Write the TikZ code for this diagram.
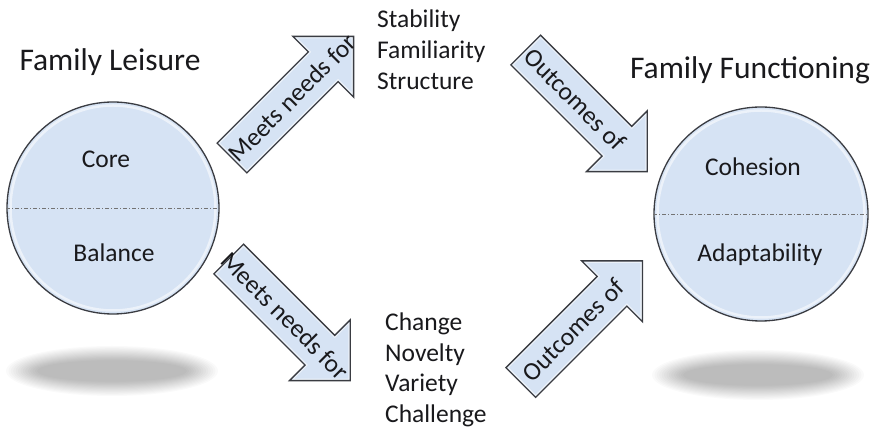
\documentclass[tikz,border=0pt]{standalone}
\usepackage{fontspec}
\setmainfont{Carlito}
\usetikzlibrary{shapes.geometric}
\definecolor{fillblue}{RGB}{214,227,244}
\definecolor{edgegray}{RGB}{58,60,66}
\definecolor{txt}{RGB}{25,25,28}
\tikzset{
  blob/.style={circle, draw=edgegray, line width=1.3pt, fill=fillblue, minimum size=212pt, inner sep=0pt},
  blockarrow/.style={draw=edgegray, line width=1.3pt, line join=miter},
  arrowfill/.style={fill=fillblue},
  glow/.style={draw=white, line width=4pt, opacity=0.55},
  lbl/.style={font=\fontsize{25.5}{31}\selectfont, text=txt, inner sep=0pt},
  listlbl/.style={font=\fontsize{25.5}{31}\selectfont, text=txt, inner sep=0pt, align=left, anchor=west},
  ttl/.style={font=\fontsize{31.5}{37}\selectfont, text=txt, inner sep=0pt},
  halfline/.style={draw=black!55, line width=0.6pt, dash pattern=on 4pt off 2pt on 1pt off 2pt},
  shadowlayer/.style={fill=black, opacity=0.02}
}
\newcommand{\arrowpath}{(0,-21) -- (129,-21) -- (129,-43) -- (172,0) -- (129,43) -- (129,21) -- (0,21) -- cycle}
\newcommand{\blkarrow}[5]{%
  \begin{scope}[shift={#2}, rotate=#3]
    \fill[arrowfill] \arrowpath;
    \begin{scope}
      \clip \arrowpath;
      \draw[glow] \arrowpath;
    \end{scope}
    \draw[blockarrow] \arrowpath;
    \node[lbl, transform shape] (#1) at (#5,0) {#4};
  \end{scope}}
\newcommand{\softshadow}[1]{%
  \foreach \k in {0,...,13} {
    \fill[shadowlayer] #1 ellipse ({106-2.4*\k} and {25-1.1*\k});
  }}
\begin{document}
\begin{tikzpicture}[x=1pt,y=1pt]
  \useasboundingbox (0,0) rectangle (876,433);
  \fill[white] (0,0) rectangle (876,433);
  % shadows
  \softshadow{(112,62)}
  \softshadow{(758,58)}
  % circles
  \node[blob] (leisure) at (113,225) {};
  \node[blob, minimum size=214pt] (functioning) at (761,219) {};
  \draw[glow, line width=2.5pt] (leisure.center) circle (102.5);
  \draw[glow, line width=2.5pt] (functioning.center) circle (103.5);
  \draw[halfline] (leisure.west) -- (leisure.east);
  \draw[halfline] (functioning.west) -- (functioning.east);
  \node[lbl] (core) at (106,274) {Core};
  \node[lbl] (balance) at (114,180) {Balance};
  \node[lbl] (cohesion) at (753,266) {Cohesion};
  \node[lbl] (adapt) at (760,178) {Adaptability};
  % titles
  \node[ttl] (t1) at (110,371) {Family Leisure};
  \node[ttl] (t2) at (750,363) {Family Functioning};
  % lists
  \node[listlbl] (stab) at (377,383) {Stability\\Familiarity\\Structure};
  \node[listlbl, font=\fontsize{25.5}{30.5}\selectfont] (chg) at (385,63) {Change\\Novelty\\Variety\\Challenge};
  % arrows
  \blkarrow{a1}{(232,275)}{45}{Meets needs for}{85}
  \blkarrow{a2}{(228.7,174)}{-45}{Meets needs for}{80}
  \blkarrow{a3}{(525.7,383)}{-45}{Outcomes of}{70}
  \blkarrow{a4}{(520.8,50.5)}{45}{Outcomes of}{74}
\end{tikzpicture}
\end{document}
